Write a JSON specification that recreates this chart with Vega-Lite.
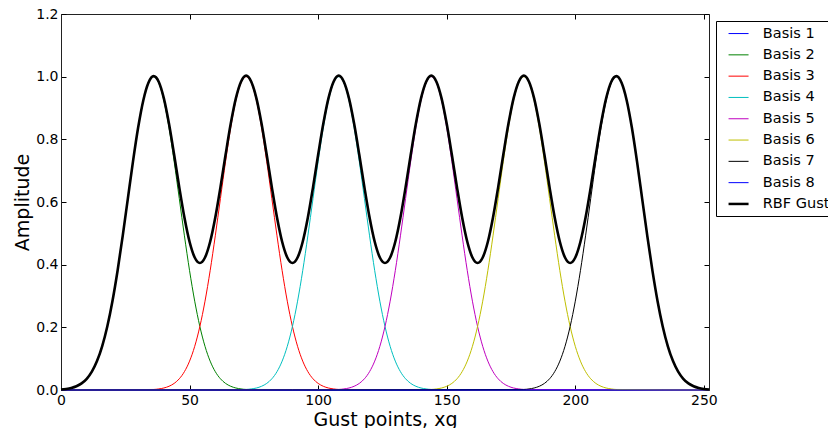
{
"$schema": "https://vega.github.io/schema/vega-lite/v6.json",
"width": 648, "height": 376,
"autosize": {"type": "none"},
"padding": {"left": 61, "top": 14, "right": 119, "bottom": 38},
"config": {
  "font": "DejaVu Sans",
  "view": {"stroke": null},
  "axis": {"grid": false, "tickSize": -5, "tickColor": "black", "domainColor": "#222", "labelFontSize": 14, "labelColor": "black", "labelFont": "DejaVu Sans", "titleFont": "DejaVu Sans", "titleFontSize": 19, "titleFontWeight": "normal", "titleColor": "black", "labelPadding": 8, "labelFlush": false, "labelOverlap": false}
},
"data": {"values": [
{"s":"Basis 1","x":0,"y":0},{"s":"Basis 1","x":252,"y":0},
{"s":"Basis 2","x":0,"y":0.0017},{"s":"Basis 2","x":2,"y":0.0034},{"s":"Basis 2","x":4,"y":0.0064},{"s":"Basis 2","x":6,"y":0.0119},{"s":"Basis 2","x":8,"y":0.021},{"s":"Basis 2","x":10,"y":0.0358},{"s":"Basis 2","x":12,"y":0.0586},{"s":"Basis 2","x":14,"y":0.0922},{"s":"Basis 2","x":16,"y":0.1394},{"s":"Basis 2","x":18,"y":0.2027},{"s":"Basis 2","x":20,"y":0.2834},{"s":"Basis 2","x":22,"y":0.3808},{"s":"Basis 2","x":24,"y":0.492},{"s":"Basis 2","x":26,"y":0.611},{"s":"Basis 2","x":28,"y":0.7296},{"s":"Basis 2","x":30,"y":0.8375},{"s":"Basis 2","x":32,"y":0.9242},{"s":"Basis 2","x":34,"y":0.9805},{"s":"Basis 2","x":36,"y":1},{"s":"Basis 2","x":38,"y":0.9805},{"s":"Basis 2","x":40,"y":0.9242},{"s":"Basis 2","x":42,"y":0.8375},{"s":"Basis 2","x":44,"y":0.7296},{"s":"Basis 2","x":46,"y":0.611},{"s":"Basis 2","x":48,"y":0.492},{"s":"Basis 2","x":50,"y":0.3808},{"s":"Basis 2","x":52,"y":0.2834},{"s":"Basis 2","x":54,"y":0.2027},{"s":"Basis 2","x":56,"y":0.1394},{"s":"Basis 2","x":58,"y":0.0922},{"s":"Basis 2","x":60,"y":0.0586},{"s":"Basis 2","x":62,"y":0.0358},{"s":"Basis 2","x":64,"y":0.021},{"s":"Basis 2","x":66,"y":0.0119},{"s":"Basis 2","x":68,"y":0.0064},{"s":"Basis 2","x":70,"y":0.0034},{"s":"Basis 2","x":72,"y":0.0017},{"s":"Basis 2","x":252,"y":0},
{"s":"Basis 3","x":0,"y":0},{"s":"Basis 3","x":36,"y":0.0017},{"s":"Basis 3","x":38,"y":0.0034},{"s":"Basis 3","x":40,"y":0.0064},{"s":"Basis 3","x":42,"y":0.0119},{"s":"Basis 3","x":44,"y":0.021},{"s":"Basis 3","x":46,"y":0.0358},{"s":"Basis 3","x":48,"y":0.0586},{"s":"Basis 3","x":50,"y":0.0922},{"s":"Basis 3","x":52,"y":0.1394},{"s":"Basis 3","x":54,"y":0.2027},{"s":"Basis 3","x":56,"y":0.2834},{"s":"Basis 3","x":58,"y":0.3808},{"s":"Basis 3","x":60,"y":0.492},{"s":"Basis 3","x":62,"y":0.611},{"s":"Basis 3","x":64,"y":0.7296},{"s":"Basis 3","x":66,"y":0.8375},{"s":"Basis 3","x":68,"y":0.9242},{"s":"Basis 3","x":70,"y":0.9805},{"s":"Basis 3","x":72,"y":1},{"s":"Basis 3","x":74,"y":0.9805},{"s":"Basis 3","x":76,"y":0.9242},{"s":"Basis 3","x":78,"y":0.8375},{"s":"Basis 3","x":80,"y":0.7296},{"s":"Basis 3","x":82,"y":0.611},{"s":"Basis 3","x":84,"y":0.492},{"s":"Basis 3","x":86,"y":0.3808},{"s":"Basis 3","x":88,"y":0.2834},{"s":"Basis 3","x":90,"y":0.2027},{"s":"Basis 3","x":92,"y":0.1394},{"s":"Basis 3","x":94,"y":0.0922},{"s":"Basis 3","x":96,"y":0.0586},{"s":"Basis 3","x":98,"y":0.0358},{"s":"Basis 3","x":100,"y":0.021},{"s":"Basis 3","x":102,"y":0.0119},{"s":"Basis 3","x":104,"y":0.0064},{"s":"Basis 3","x":106,"y":0.0034},{"s":"Basis 3","x":108,"y":0.0017},{"s":"Basis 3","x":252,"y":0},
{"s":"Basis 4","x":0,"y":0},{"s":"Basis 4","x":72,"y":0.0017},{"s":"Basis 4","x":74,"y":0.0034},{"s":"Basis 4","x":76,"y":0.0064},{"s":"Basis 4","x":78,"y":0.0119},{"s":"Basis 4","x":80,"y":0.021},{"s":"Basis 4","x":82,"y":0.0358},{"s":"Basis 4","x":84,"y":0.0586},{"s":"Basis 4","x":86,"y":0.0922},{"s":"Basis 4","x":88,"y":0.1394},{"s":"Basis 4","x":90,"y":0.2027},{"s":"Basis 4","x":92,"y":0.2834},{"s":"Basis 4","x":94,"y":0.3808},{"s":"Basis 4","x":96,"y":0.492},{"s":"Basis 4","x":98,"y":0.611},{"s":"Basis 4","x":100,"y":0.7296},{"s":"Basis 4","x":102,"y":0.8375},{"s":"Basis 4","x":104,"y":0.9242},{"s":"Basis 4","x":106,"y":0.9805},{"s":"Basis 4","x":108,"y":1},{"s":"Basis 4","x":110,"y":0.9805},{"s":"Basis 4","x":112,"y":0.9242},{"s":"Basis 4","x":114,"y":0.8375},{"s":"Basis 4","x":116,"y":0.7296},{"s":"Basis 4","x":118,"y":0.611},{"s":"Basis 4","x":120,"y":0.492},{"s":"Basis 4","x":122,"y":0.3808},{"s":"Basis 4","x":124,"y":0.2834},{"s":"Basis 4","x":126,"y":0.2027},{"s":"Basis 4","x":128,"y":0.1394},{"s":"Basis 4","x":130,"y":0.0922},{"s":"Basis 4","x":132,"y":0.0586},{"s":"Basis 4","x":134,"y":0.0358},{"s":"Basis 4","x":136,"y":0.021},{"s":"Basis 4","x":138,"y":0.0119},{"s":"Basis 4","x":140,"y":0.0064},{"s":"Basis 4","x":142,"y":0.0034},{"s":"Basis 4","x":144,"y":0.0017},{"s":"Basis 4","x":252,"y":0},
{"s":"Basis 5","x":0,"y":0},{"s":"Basis 5","x":108,"y":0.0017},{"s":"Basis 5","x":110,"y":0.0034},{"s":"Basis 5","x":112,"y":0.0064},{"s":"Basis 5","x":114,"y":0.0119},{"s":"Basis 5","x":116,"y":0.021},{"s":"Basis 5","x":118,"y":0.0358},{"s":"Basis 5","x":120,"y":0.0586},{"s":"Basis 5","x":122,"y":0.0922},{"s":"Basis 5","x":124,"y":0.1394},{"s":"Basis 5","x":126,"y":0.2027},{"s":"Basis 5","x":128,"y":0.2834},{"s":"Basis 5","x":130,"y":0.3808},{"s":"Basis 5","x":132,"y":0.492},{"s":"Basis 5","x":134,"y":0.611},{"s":"Basis 5","x":136,"y":0.7296},{"s":"Basis 5","x":138,"y":0.8375},{"s":"Basis 5","x":140,"y":0.9242},{"s":"Basis 5","x":142,"y":0.9805},{"s":"Basis 5","x":144,"y":1},{"s":"Basis 5","x":146,"y":0.9805},{"s":"Basis 5","x":148,"y":0.9242},{"s":"Basis 5","x":150,"y":0.8375},{"s":"Basis 5","x":152,"y":0.7296},{"s":"Basis 5","x":154,"y":0.611},{"s":"Basis 5","x":156,"y":0.492},{"s":"Basis 5","x":158,"y":0.3808},{"s":"Basis 5","x":160,"y":0.2834},{"s":"Basis 5","x":162,"y":0.2027},{"s":"Basis 5","x":164,"y":0.1394},{"s":"Basis 5","x":166,"y":0.0922},{"s":"Basis 5","x":168,"y":0.0586},{"s":"Basis 5","x":170,"y":0.0358},{"s":"Basis 5","x":172,"y":0.021},{"s":"Basis 5","x":174,"y":0.0119},{"s":"Basis 5","x":176,"y":0.0064},{"s":"Basis 5","x":178,"y":0.0034},{"s":"Basis 5","x":180,"y":0.0017},{"s":"Basis 5","x":252,"y":0},
{"s":"Basis 6","x":0,"y":0},{"s":"Basis 6","x":144,"y":0.0017},{"s":"Basis 6","x":146,"y":0.0034},{"s":"Basis 6","x":148,"y":0.0064},{"s":"Basis 6","x":150,"y":0.0119},{"s":"Basis 6","x":152,"y":0.021},{"s":"Basis 6","x":154,"y":0.0358},{"s":"Basis 6","x":156,"y":0.0586},{"s":"Basis 6","x":158,"y":0.0922},{"s":"Basis 6","x":160,"y":0.1394},{"s":"Basis 6","x":162,"y":0.2027},{"s":"Basis 6","x":164,"y":0.2834},{"s":"Basis 6","x":166,"y":0.3808},{"s":"Basis 6","x":168,"y":0.492},{"s":"Basis 6","x":170,"y":0.611},{"s":"Basis 6","x":172,"y":0.7296},{"s":"Basis 6","x":174,"y":0.8375},{"s":"Basis 6","x":176,"y":0.9242},{"s":"Basis 6","x":178,"y":0.9805},{"s":"Basis 6","x":180,"y":1},{"s":"Basis 6","x":182,"y":0.9805},{"s":"Basis 6","x":184,"y":0.9242},{"s":"Basis 6","x":186,"y":0.8375},{"s":"Basis 6","x":188,"y":0.7296},{"s":"Basis 6","x":190,"y":0.611},{"s":"Basis 6","x":192,"y":0.492},{"s":"Basis 6","x":194,"y":0.3808},{"s":"Basis 6","x":196,"y":0.2834},{"s":"Basis 6","x":198,"y":0.2027},{"s":"Basis 6","x":200,"y":0.1394},{"s":"Basis 6","x":202,"y":0.0922},{"s":"Basis 6","x":204,"y":0.0586},{"s":"Basis 6","x":206,"y":0.0358},{"s":"Basis 6","x":208,"y":0.021},{"s":"Basis 6","x":210,"y":0.0119},{"s":"Basis 6","x":212,"y":0.0064},{"s":"Basis 6","x":214,"y":0.0034},{"s":"Basis 6","x":216,"y":0.0017},{"s":"Basis 6","x":252,"y":0},
{"s":"Basis 7","x":0,"y":0},{"s":"Basis 7","x":180,"y":0.0017},{"s":"Basis 7","x":182,"y":0.0034},{"s":"Basis 7","x":184,"y":0.0064},{"s":"Basis 7","x":186,"y":0.0119},{"s":"Basis 7","x":188,"y":0.021},{"s":"Basis 7","x":190,"y":0.0358},{"s":"Basis 7","x":192,"y":0.0586},{"s":"Basis 7","x":194,"y":0.0922},{"s":"Basis 7","x":196,"y":0.1394},{"s":"Basis 7","x":198,"y":0.2027},{"s":"Basis 7","x":200,"y":0.2834},{"s":"Basis 7","x":202,"y":0.3808},{"s":"Basis 7","x":204,"y":0.492},{"s":"Basis 7","x":206,"y":0.611},{"s":"Basis 7","x":208,"y":0.7296},{"s":"Basis 7","x":210,"y":0.8375},{"s":"Basis 7","x":212,"y":0.9242},{"s":"Basis 7","x":214,"y":0.9805},{"s":"Basis 7","x":216,"y":1},{"s":"Basis 7","x":218,"y":0.9805},{"s":"Basis 7","x":220,"y":0.9242},{"s":"Basis 7","x":222,"y":0.8375},{"s":"Basis 7","x":224,"y":0.7296},{"s":"Basis 7","x":226,"y":0.611},{"s":"Basis 7","x":228,"y":0.492},{"s":"Basis 7","x":230,"y":0.3808},{"s":"Basis 7","x":232,"y":0.2834},{"s":"Basis 7","x":234,"y":0.2027},{"s":"Basis 7","x":236,"y":0.1394},{"s":"Basis 7","x":238,"y":0.0922},{"s":"Basis 7","x":240,"y":0.0586},{"s":"Basis 7","x":242,"y":0.0358},{"s":"Basis 7","x":244,"y":0.021},{"s":"Basis 7","x":246,"y":0.0119},{"s":"Basis 7","x":248,"y":0.0064},{"s":"Basis 7","x":250,"y":0.0034},{"s":"Basis 7","x":252,"y":0.0017},
{"s":"Basis 8","x":0,"y":0},{"s":"Basis 8","x":252,"y":0},
{"s":"RBF Gust","x":0,"y":0.0017},{"s":"RBF Gust","x":2,"y":0.0034},{"s":"RBF Gust","x":4,"y":0.0064},{"s":"RBF Gust","x":6,"y":0.0119},{"s":"RBF Gust","x":8,"y":0.021},{"s":"RBF Gust","x":10,"y":0.0358},{"s":"RBF Gust","x":12,"y":0.0586},{"s":"RBF Gust","x":14,"y":0.0922},{"s":"RBF Gust","x":16,"y":0.1394},{"s":"RBF Gust","x":18,"y":0.2027},{"s":"RBF Gust","x":20,"y":0.2834},{"s":"RBF Gust","x":22,"y":0.3808},{"s":"RBF Gust","x":24,"y":0.492},{"s":"RBF Gust","x":26,"y":0.611},{"s":"RBF Gust","x":28,"y":0.7296},{"s":"RBF Gust","x":30,"y":0.8375},{"s":"RBF Gust","x":32,"y":0.9242},{"s":"RBF Gust","x":34,"y":0.9805},{"s":"RBF Gust","x":36,"y":1.0017},
{"s":"RBF Gust","x":38,"y":0.9839},{"s":"RBF Gust","x":40,"y":0.9307},{"s":"RBF Gust","x":42,"y":0.8494},{"s":"RBF Gust","x":44,"y":0.7506},{"s":"RBF Gust","x":46,"y":0.6468},{"s":"RBF Gust","x":48,"y":0.5505},{"s":"RBF Gust","x":50,"y":0.473},{"s":"RBF Gust","x":52,"y":0.4228},{"s":"RBF Gust","x":54,"y":0.4054},{"s":"RBF Gust","x":56,"y":0.4228},{"s":"RBF Gust","x":58,"y":0.473},{"s":"RBF Gust","x":60,"y":0.5505},{"s":"RBF Gust","x":62,"y":0.6468},{"s":"RBF Gust","x":64,"y":0.7506},{"s":"RBF Gust","x":66,"y":0.8494},{"s":"RBF Gust","x":68,"y":0.9307},{"s":"RBF Gust","x":70,"y":0.9839},{"s":"RBF Gust","x":72,"y":1.0034},
{"s":"RBF Gust","x":74,"y":0.9839},{"s":"RBF Gust","x":76,"y":0.9307},{"s":"RBF Gust","x":78,"y":0.8494},{"s":"RBF Gust","x":80,"y":0.7506},{"s":"RBF Gust","x":82,"y":0.6468},{"s":"RBF Gust","x":84,"y":0.5505},{"s":"RBF Gust","x":86,"y":0.473},{"s":"RBF Gust","x":88,"y":0.4228},{"s":"RBF Gust","x":90,"y":0.4054},{"s":"RBF Gust","x":92,"y":0.4228},{"s":"RBF Gust","x":94,"y":0.473},{"s":"RBF Gust","x":96,"y":0.5505},{"s":"RBF Gust","x":98,"y":0.6468},{"s":"RBF Gust","x":100,"y":0.7506},{"s":"RBF Gust","x":102,"y":0.8494},{"s":"RBF Gust","x":104,"y":0.9307},{"s":"RBF Gust","x":106,"y":0.9839},{"s":"RBF Gust","x":108,"y":1.0034},
{"s":"RBF Gust","x":110,"y":0.9839},{"s":"RBF Gust","x":112,"y":0.9307},{"s":"RBF Gust","x":114,"y":0.8494},{"s":"RBF Gust","x":116,"y":0.7506},{"s":"RBF Gust","x":118,"y":0.6468},{"s":"RBF Gust","x":120,"y":0.5505},{"s":"RBF Gust","x":122,"y":0.473},{"s":"RBF Gust","x":124,"y":0.4228},{"s":"RBF Gust","x":126,"y":0.4054},{"s":"RBF Gust","x":128,"y":0.4228},{"s":"RBF Gust","x":130,"y":0.473},{"s":"RBF Gust","x":132,"y":0.5505},{"s":"RBF Gust","x":134,"y":0.6468},{"s":"RBF Gust","x":136,"y":0.7506},{"s":"RBF Gust","x":138,"y":0.8494},{"s":"RBF Gust","x":140,"y":0.9307},{"s":"RBF Gust","x":142,"y":0.9839},{"s":"RBF Gust","x":144,"y":1.0034},
{"s":"RBF Gust","x":146,"y":0.9839},{"s":"RBF Gust","x":148,"y":0.9307},{"s":"RBF Gust","x":150,"y":0.8494},{"s":"RBF Gust","x":152,"y":0.7506},{"s":"RBF Gust","x":154,"y":0.6468},{"s":"RBF Gust","x":156,"y":0.5505},{"s":"RBF Gust","x":158,"y":0.473},{"s":"RBF Gust","x":160,"y":0.4228},{"s":"RBF Gust","x":162,"y":0.4054},{"s":"RBF Gust","x":164,"y":0.4228},{"s":"RBF Gust","x":166,"y":0.473},{"s":"RBF Gust","x":168,"y":0.5505},{"s":"RBF Gust","x":170,"y":0.6468},{"s":"RBF Gust","x":172,"y":0.7506},{"s":"RBF Gust","x":174,"y":0.8494},{"s":"RBF Gust","x":176,"y":0.9307},{"s":"RBF Gust","x":178,"y":0.9839},{"s":"RBF Gust","x":180,"y":1.0034},
{"s":"RBF Gust","x":182,"y":0.9839},{"s":"RBF Gust","x":184,"y":0.9307},{"s":"RBF Gust","x":186,"y":0.8494},{"s":"RBF Gust","x":188,"y":0.7506},{"s":"RBF Gust","x":190,"y":0.6468},{"s":"RBF Gust","x":192,"y":0.5505},{"s":"RBF Gust","x":194,"y":0.473},{"s":"RBF Gust","x":196,"y":0.4228},{"s":"RBF Gust","x":198,"y":0.4054},{"s":"RBF Gust","x":200,"y":0.4228},{"s":"RBF Gust","x":202,"y":0.473},{"s":"RBF Gust","x":204,"y":0.5505},{"s":"RBF Gust","x":206,"y":0.6468},{"s":"RBF Gust","x":208,"y":0.7506},{"s":"RBF Gust","x":210,"y":0.8494},{"s":"RBF Gust","x":212,"y":0.9307},{"s":"RBF Gust","x":214,"y":0.9839},{"s":"RBF Gust","x":216,"y":1.0017},
{"s":"RBF Gust","x":218,"y":0.9805},{"s":"RBF Gust","x":220,"y":0.9242},{"s":"RBF Gust","x":222,"y":0.8375},{"s":"RBF Gust","x":224,"y":0.7296},{"s":"RBF Gust","x":226,"y":0.611},{"s":"RBF Gust","x":228,"y":0.492},{"s":"RBF Gust","x":230,"y":0.3808},{"s":"RBF Gust","x":232,"y":0.2834},{"s":"RBF Gust","x":234,"y":0.2027},{"s":"RBF Gust","x":236,"y":0.1394},{"s":"RBF Gust","x":238,"y":0.0922},{"s":"RBF Gust","x":240,"y":0.0586},{"s":"RBF Gust","x":242,"y":0.0358},{"s":"RBF Gust","x":244,"y":0.021},{"s":"RBF Gust","x":246,"y":0.0119},{"s":"RBF Gust","x":248,"y":0.0064},{"s":"RBF Gust","x":250,"y":0.0034},{"s":"RBF Gust","x":252,"y":0.0017}
]},
"layer": [
  {"transform": [{"filter": "datum.s !== 'RBF Gust'"}],
   "mark": {"type": "line", "interpolate": "monotone", "strokeWidth": 1},
   "encoding": {
     "x": {"field": "x", "type": "quantitative", "scale": {"domain": [0, 252], "nice": false, "zero": false}, "axis": {"orient": "bottom", "values": [0, 50, 100, 150, 200, 250], "title": "Gust points, xg", "titlePadding": 3}},
     "y": {"field": "y", "type": "quantitative", "scale": {"domain": [0, 1.2], "nice": false}, "axis": {"orient": "left", "values": [0, 0.2, 0.4, 0.6, 0.8, 1.0, 1.2], "format": ".1f", "title": "Amplitude", "titlePadding": 3}},
     "color": {"field": "s", "type": "nominal", "scale": {"domain": ["Basis 1","Basis 2","Basis 3","Basis 4","Basis 5","Basis 6","Basis 7","Basis 8","RBF Gust"], "range": ["#0000ff","#008000","#ff0000","#00bfbf","#bf00bf","#bfbf00","#000000","#0000ff","#000000"]},
       "legend": {"title": null, "orient": "none", "legendX": 655, "legendY": 7, "strokeColor": "black", "fillColor": "white", "padding": 5.3, "symbolType": "stroke", "symbolSize": 400, "labelFontSize": 14.5, "labelFont": "DejaVu Sans", "labelColor": "black", "rowPadding": 6.3, "labelOffset": 17, "symbolOffset": 10, "cornerRadius": 0,
         "encode": {"symbols": {"update": {"strokeWidth": {"signal": "datum.value === 'RBF Gust' ? 2.5 : 1"}}}}}}
   }},
  {"transform": [{"filter": "datum.s === 'RBF Gust'"}],
   "mark": {"type": "line", "interpolate": "monotone", "strokeWidth": 2.6},
   "encoding": {
     "x": {"field": "x", "type": "quantitative", "axis": null},
     "y": {"field": "y", "type": "quantitative", "axis": null},
     "color": {"field": "s", "type": "nominal"}
   }},
  {"mark": {"type": "point", "opacity": 0},
   "encoding": {
     "x": {"field": "x", "type": "quantitative", "axis": {"orient": "top", "values": [0, 50, 100, 150, 200, 250], "labels": false, "title": null}},
     "y": {"field": "y", "type": "quantitative", "axis": {"orient": "right", "values": [0, 0.2, 0.4, 0.6, 0.8, 1.0, 1.2], "labels": false, "title": null}}
   }}
],
"resolve": {"axis": {"x": "independent", "y": "independent"}}
}
